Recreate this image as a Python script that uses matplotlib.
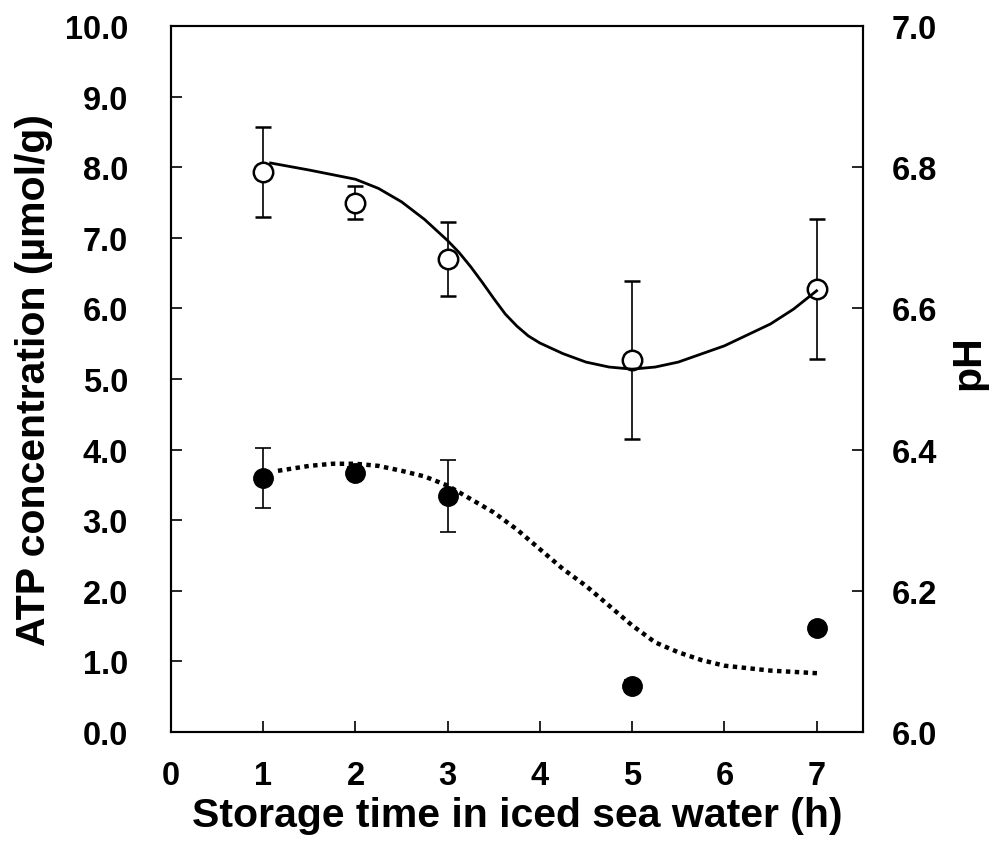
import numpy as np
import matplotlib
matplotlib.use("Agg")
import matplotlib.pyplot as plt
from matplotlib.ticker import FormatStrFormatter

plt.rcParams['font.family'] = ['Liberation Sans', 'DejaVu Sans']
plt.rcParams['font.weight'] = 'bold'

# measured points
days = [1, 2, 3, 5, 7]
atp = [3.60, 3.67, 3.35, 0.65, 1.47]
atp_err = [0.42, 0.08, 0.51, 0.08, 0.08]
ph = [6.793, 6.750, 6.670, 6.527, 6.628]
ph_err = [0.064, 0.024, 0.053, 0.112, 0.099]

# fitted curves
ph_fit_x = [1.08, 1.5, 2.0, 2.25, 2.5, 2.75, 3.0, 3.125, 3.25, 3.375, 3.5,
            3.625, 3.75, 3.875, 4.0, 4.25, 4.5, 4.75, 5.0, 5.25, 5.5, 6.0,
            6.5, 6.75, 7.0]
ph_fit_y = [6.806, 6.796, 6.783, 6.770, 6.751, 6.726, 6.696, 6.679, 6.659,
            6.637, 6.614, 6.592, 6.575, 6.561, 6.551, 6.536, 6.524, 6.517,
            6.514, 6.517, 6.524, 6.547, 6.578, 6.599, 6.625]
atp_fit_x = [1.16, 1.5, 1.75, 2.0, 2.25, 2.5, 2.75, 3.0, 3.25, 3.5, 3.75, 4.0,
             4.25, 4.5, 4.75, 5.0, 5.25, 5.5, 5.75, 6.0, 6.5, 7.05]
atp_fit_y = [3.70, 3.77, 3.80, 3.80, 3.77, 3.70, 3.62, 3.49, 3.30, 3.11, 2.87,
             2.59, 2.31, 2.07, 1.79, 1.51, 1.27, 1.13, 1.02, 0.94, 0.87, 0.83]

fig = plt.figure(figsize=(9.97, 8.45), dpi=100)
ax = fig.add_axes([0.1715, 0.1325, 0.6938, 0.8355])
ax2 = ax.twinx()

# ATP (left axis)
ax.errorbar(days, atp, yerr=atp_err, fmt='o', color='black', ms=14,
            elinewidth=1.2, capsize=6, capthick=1.2, zorder=3)
ax.plot(atp_fit_x, atp_fit_y, color='black', lw=3.2, ls=(0, (1, 1)), zorder=4)

# pH (right axis)
ax2.errorbar(days, ph, yerr=ph_err, fmt='o', color='black', mfc='white',
             mec='black', mew=1.8, ms=14, elinewidth=1.2, capsize=6,
             capthick=1.2, zorder=3)
ax2.plot(ph_fit_x, ph_fit_y, color='black', lw=2, zorder=4)

ax.set_xlim(0, 7.5)
ax.set_ylim(0, 10)
ax2.set_ylim(6.0, 7.0)
ax.set_xticks(range(0, 8))
ax.set_yticks(np.arange(0, 10.5, 1))
ax2.set_yticks(np.arange(6.0, 7.05, 0.2))
ax.yaxis.set_major_formatter(FormatStrFormatter('%.1f'))
ax2.yaxis.set_major_formatter(FormatStrFormatter('%.1f'))

ax.tick_params(axis='x', direction='in', length=8, width=1.2, pad=20, labelsize=23.5)
ax.tick_params(axis='y', direction='in', length=8, width=1.2, pad=31, labelsize=23.5)
ax2.tick_params(axis='y', direction='in', length=8, width=1.2, pad=21, labelsize=23.5)

for a in (ax, ax2):
    for s in a.spines.values():
        s.set_linewidth(1.5)

ax.set_xlabel('Storage time in iced sea water (h)', fontsize=29.5, fontweight='bold', labelpad=4)
ax.set_ylabel('ATP concentration (µmol/g)', fontsize=29.5, fontweight='bold', labelpad=8)
ax2.set_ylabel('pH', fontsize=29.5, fontweight='bold', rotation=90, labelpad=9)
ax2.yaxis.label.set_y(0.525)

fig.savefig('out.png', dpi=100)
